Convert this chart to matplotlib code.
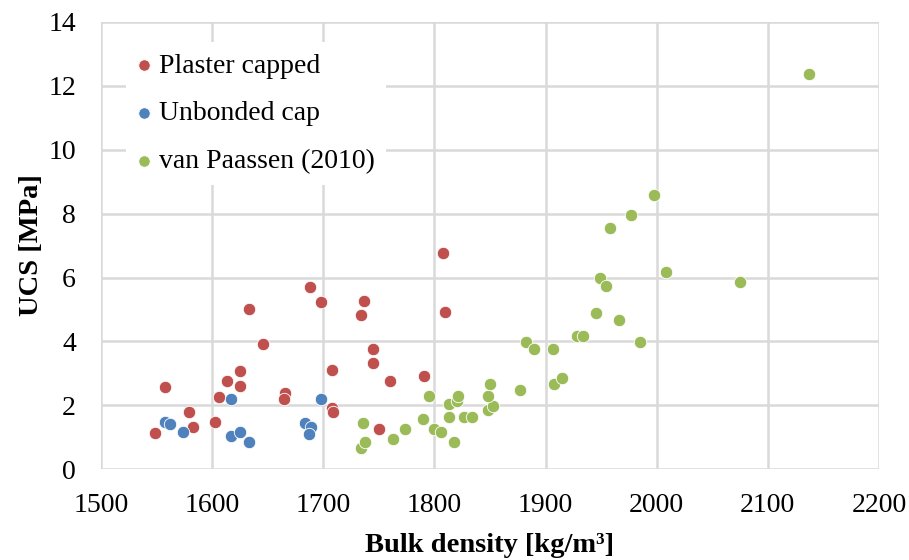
import numpy as np
import matplotlib
matplotlib.use('Agg')
import matplotlib.pyplot as plt

# UCS vs bulk density, three series
# plaster capped samples
plaster_rho = [1549, 1558, 1579, 1583, 1603, 1606, 1613, 1625, 1625, 1633,
               1646, 1666, 1665, 1688, 1698, 1708, 1708, 1709, 1734, 1737,
               1745, 1745, 1750, 1760, 1791, 1808, 1810]
plaster_ucs = [1.15, 2.57, 1.80, 1.33, 1.49, 2.25, 2.75, 3.08, 2.61, 5.00,
               3.93, 2.38, 2.19, 5.70, 5.24, 3.12, 1.93, 1.80, 4.83, 5.27,
               3.77, 3.34, 1.26, 2.76, 2.91, 6.76, 4.92]
# unbonded cap samples
unbonded_rho = [1558, 1562, 1574, 1617, 1617, 1625, 1633, 1684, 1689, 1687, 1698]
unbonded_ucs = [1.49, 1.42, 1.18, 2.19, 1.05, 1.16, 0.86, 1.46, 1.31, 1.10, 2.19]
# van Paassen (2010)
vp_rho = [1734, 1738, 1736, 1763, 1774, 1790, 1795, 1800, 1806, 1818,
          1813, 1813, 1820, 1821, 1827, 1834, 1848, 1853, 1848, 1850,
          1877, 1882, 1890, 1907, 1908, 1915, 1928, 1934, 1945, 1949,
          1954, 1958, 1966, 1977, 1985, 1998, 2008, 2075, 2137]
vp_ucs = [0.66, 0.86, 1.46, 0.95, 1.26, 1.56, 2.28, 1.27, 1.18, 0.86,
          1.65, 2.04, 2.14, 2.29, 1.65, 1.65, 1.85, 1.98, 2.28, 2.67,
          2.47, 3.97, 3.77, 3.77, 2.67, 2.87, 4.16, 4.16, 4.88, 6.00,
          5.74, 7.55, 4.68, 7.95, 3.97, 8.58, 6.18, 5.86, 12.36]

xticks = np.arange(1500, 2201, 100)
yticks = np.arange(0, 15, 2)

plt.rcParams['font.family'] = ['Liberation Serif', 'DejaVu Serif']

fig = plt.figure(figsize=(9.09, 5.6), dpi=100)
ax = fig.add_axes([0.111, 0.162, 0.856, 0.799])

ms = 80
ax.scatter(plaster_rho, plaster_ucs, s=ms, color='#C0504D', edgecolors='white',
           linewidths=0.6, label='Plaster capped', zorder=3)
ax.scatter(unbonded_rho, unbonded_ucs, s=ms, color='#4F81BD', edgecolors='white',
           linewidths=0.6, label='Unbonded cap', zorder=3)
ax.scatter(vp_rho, vp_ucs, s=ms, color='#9BBB59', edgecolors='white',
           linewidths=0.6, label='van Paassen (2010)', zorder=3)

ax.set_xlim(1500, 2200)
ax.set_ylim(0, 14)
ax.set_xticks(xticks)
ax.set_yticks(yticks)
ax.grid(True, color='#D9D9D9', linewidth=1.8, zorder=0)
ax.set_axisbelow(True)
for s in ax.spines.values():
    s.set_visible(False)
ax.tick_params(axis='both', length=0, labelsize=20)
ax.tick_params(axis='y', pad=18)
ax.tick_params(axis='x', pad=17)

ax.set_xlabel('Bulk density [kg/m³]', fontsize=20.5, fontweight='bold', labelpad=11)
ax.set_ylabel('UCS [MPa]', fontsize=20.5, fontweight='bold', labelpad=3)

leg = ax.legend(loc='upper left', bbox_to_anchor=(0.032, 0.955), frameon=True,
                fontsize=20, markerscale=0.92, handletextpad=0.3,
                labelspacing=0.8, borderpad=0.4, handlelength=0.5,
                borderaxespad=0, fancybox=False)
leg.get_frame().set_facecolor('white')
leg.get_frame().set_edgecolor('none')
leg.get_frame().set_alpha(1)

fig.savefig('out.png', dpi=100)
